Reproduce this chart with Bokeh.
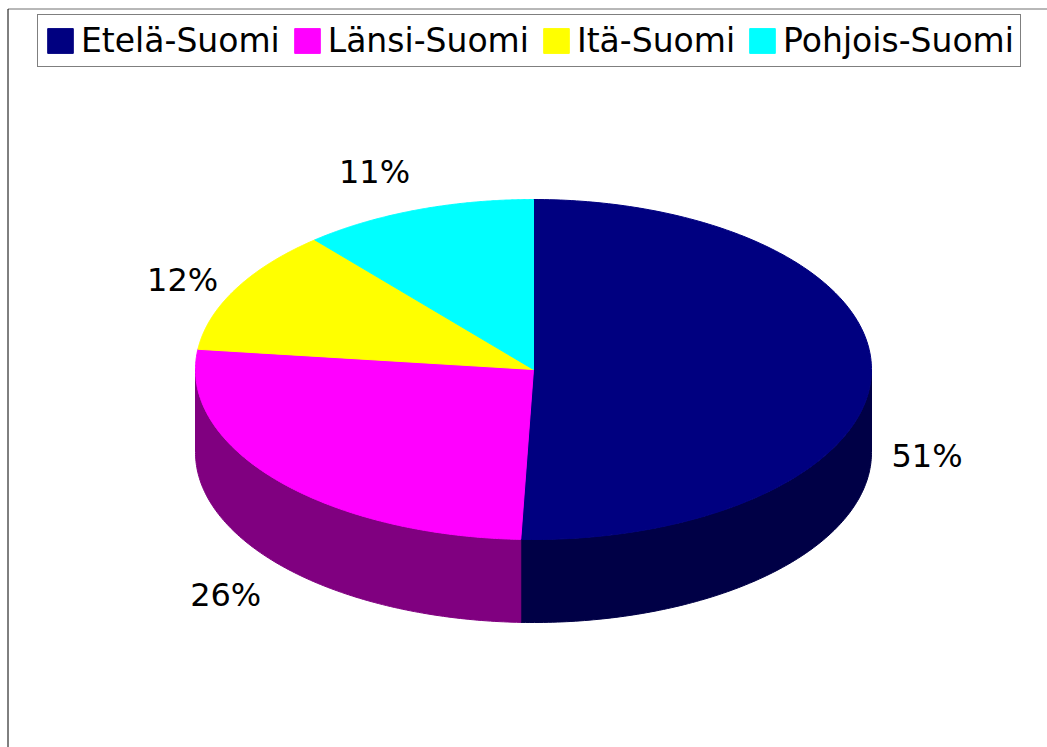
import numpy as np
from bokeh.plotting import figure
from bokeh.models import Range1d, Legend, LegendItem, ColumnDataSource
from bokeh.core.properties import value
from bokeh.embed import file_html
from bokeh.resources import INLINE

# ---- data ----
categories = ["Etelä-Suomi", "Länsi-Suomi", "Itä-Suomi", "Pohjois-Suomi"]
values = [50.6, 26.3, 11.9, 11.2]
top_colors = ["#000080", "#FF00FF", "#FFFF00", "#00FFFF"]
side_colors = ["#000046", "#800080", "#808000", "#008080"]

# ---- layout constants ----
W, H = 1047, 747
CX, CY, RX, RY, DEPTH = 533, 369, 338, 170, 83
LABEL_GAP = 20
FONT = "DejaVu Sans"
FSIZE = "33px"

p = figure(width=W, height=H, x_range=Range1d(0, W), y_range=Range1d(H, 0),
           output_backend="svg", toolbar_location=None, min_border=0,
           x_axis_location=None, y_axis_location=None)
p.grid.visible = False
p.outline_line_color = None
p.background_fill_color = "white"

# outer chart frame (extends past the window)
p.multi_line(xs=[[7.5, 1200], [7.5, 7.5]], ys=[[8.5, 8.5], [8.5, 900]],
             line_color=["#707070", "#000000"], line_width=1)


def ell(theta_deg, rx=RX, ry=RY, dy=0.0):
    t = np.radians(theta_deg)
    return CX + rx * np.sin(t), CY - ry * np.cos(t) + dy


vals = np.array(values, dtype=float)
frac = vals / vals.sum()
bounds = np.concatenate([[0.0], np.cumsum(frac) * 360.0])
pct_labels = [f"{int(round(f * 100))}%" for f in frac]

# sides (visible front half: 90..270 deg clockwise from top)
sx, sy, sc = [], [], []
for i in range(len(values)):
    a0, a1 = bounds[i], bounds[i + 1]
    lo, hi = max(a0, 90.0), min(a1, 270.0)
    if hi > lo:
        ts = np.linspace(lo, hi, 120)
        xt, yt = ell(ts)
        xb, yb = ell(ts[::-1], dy=DEPTH)
        sx.append(list(xt) + list(xb))
        sy.append(list(yt) + list(yb))
        sc.append(side_colors[i])
p.patches(xs=sx, ys=sy, fill_color=sc, line_color=sc, line_width=1)

# top faces
tx, ty = [], []
for i in range(len(values)):
    ts = np.linspace(bounds[i], bounds[i + 1], 200)
    x, y = ell(ts)
    tx.append([CX] + list(x))
    ty.append([CY] + list(y))
src = ColumnDataSource(dict(xs=tx, ys=ty, color=top_colors, cat=categories))
tops = p.patches(xs="xs", ys="ys", fill_color="color", line_color="color",
                 line_width=1, source=src)

# percentage labels
lx, ly, la, lb = [], [], [], []
for i in range(len(values)):
    mid = (bounds[i] + bounds[i + 1]) / 2
    s, c = np.sin(np.radians(mid)), np.cos(np.radians(mid))
    x, y = ell(mid, RX + LABEL_GAP, RY + LABEL_GAP, DEPTH if c < 0 else 0.0)
    lx.append(x)
    ly.append(y)
    la.append("left" if s > 0.2 else ("right" if s < -0.2 else "center"))
    lb.append("middle" if abs(c) < 0.5 else ("top" if c < 0 else "bottom"))
p.text(x=lx, y=ly, text=pct_labels, text_align=la, text_baseline=lb,
       text_font=value(FONT), text_font_size="32px", text_color="black")

legend = Legend(
    items=[LegendItem(label=categories[i], renderers=[tops], index=i)
           for i in range(len(categories))],
    orientation="horizontal", location=(37, H - 67),
    glyph_width=32, glyph_height=31, label_standoff=5, spacing=11,
    padding=6, margin=0, border_line_color="black", border_line_width=1,
    background_fill_color="white", background_fill_alpha=1.0,
    label_text_font=FONT, label_text_font_size=FSIZE, label_text_color="black",
    label_height=25)
p.add_layout(legend, "center")

open("out.html", "w").write(file_html(p, INLINE))
